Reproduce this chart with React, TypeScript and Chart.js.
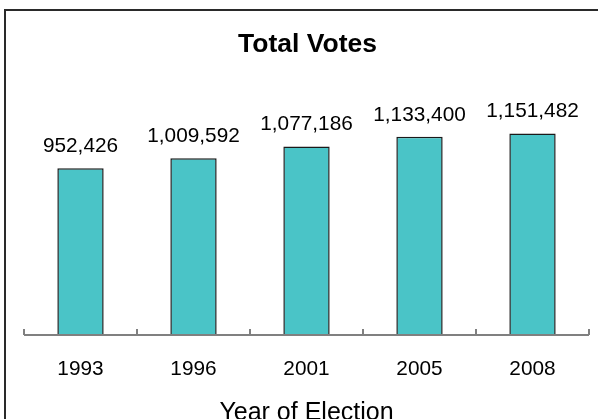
import { useEffect, useRef } from "react";
import { Chart, registerables } from "chart.js";

Chart.register(...registerables);

const years = ["1993", "1996", "2001", "2005", "2008"];
const totalVotes = [952426, 1009592, 1077186, 1133400, 1151482];
const chartTitle = "Total Votes";
const xAxisTitle = "Year of Election";
const yMax = 1400000;

const FONT = "'Liberation Sans', Arial, sans-serif";

const decorPlugin = {
  id: "decor",
  afterDatasetsDraw(chart: any) {
    const ctx = chart.ctx;
    const meta = chart.getDatasetMeta(0);
    const ds = chart.data.datasets[0].data as number[];
    ctx.save();
    ctx.fillStyle = "#000";
    ctx.font = `20.8px ${FONT}`;
    ctx.textAlign = "center";
    ctx.textBaseline = "alphabetic";
    meta.data.forEach((bar: any, i: number) => {
      ctx.fillText(ds[i].toLocaleString("en-US"), bar.x, bar.y - 16);
    });
    ctx.restore();
  },
  afterDraw(chart: any) {
    const ctx = chart.ctx;
    const area = chart.chartArea;
    const xs = chart.scales.x;
    const meta = chart.getDatasetMeta(0);
    ctx.save();
    // frame
    ctx.strokeStyle = "#2a2a2a";
    ctx.lineWidth = 2;
    ctx.strokeRect(5, 10, 800, 800);
    // axis line
    ctx.strokeStyle = "#808080";
    ctx.lineWidth = 2;
    ctx.beginPath();
    ctx.moveTo(area.left, area.bottom);
    ctx.lineTo(area.right, area.bottom);
    ctx.stroke();
    // tick marks between categories
    for (let i = 0; i <= years.length; i++) {
      const px = Math.round(xs.getPixelForValue(i - 0.5));
      ctx.beginPath();
      ctx.moveTo(px, area.bottom);
      ctx.lineTo(px, area.bottom - 6);
      ctx.stroke();
    }
    // category labels
    ctx.fillStyle = "#000";
    ctx.font = `20.8px ${FONT}`;
    ctx.textAlign = "center";
    ctx.textBaseline = "alphabetic";
    meta.data.forEach((bar: any, i: number) => {
      ctx.fillText(years[i], bar.x, area.bottom + 40);
    });
    // axis title
    ctx.font = `25px ${FONT}`;
    ctx.fillText(xAxisTitle, (area.left + area.right) / 2, 420);
    // chart title
    ctx.font = `bold 26.5px ${FONT}`;
    ctx.fillText(chartTitle, (area.left + area.right) / 2 + 1, 51.5);
    ctx.restore();
  },
};

export default function App() {
  const ref = useRef<HTMLCanvasElement | null>(null);
  useEffect(() => {
    if (!ref.current) return;
    const chart = new Chart(ref.current, {
      type: "bar",
      data: {
        labels: years,
        datasets: [
          {
            data: totalVotes,
            backgroundColor: "#4AC4C7",
            borderColor: "#1a1a1a",
            borderWidth: 1.5,
            barPercentage: 0.41,
            categoryPercentage: 1,
          },
        ],
      },
      options: {
        responsive: false,
        animation: false,
        layout: { padding: { left: 24, right: 9, top: 90, bottom: 84 } },
        plugins: {
          legend: { display: false },
          tooltip: { enabled: false },
          title: { display: false },
        },
        scales: {
          x: { display: false, offset: true },
          y: { display: false, min: 0, max: yMax },
        },
      },
      plugins: [decorPlugin],
    });
    return () => chart.destroy();
  }, []);
  return (
    <div style={{ position: "fixed", left: 0, top: 0, width: 598, height: 419, background: "#fff" }}>
      <canvas ref={ref} width={598} height={419} style={{ display: "block", width: 598, height: 419 }} />
    </div>
  );
}
